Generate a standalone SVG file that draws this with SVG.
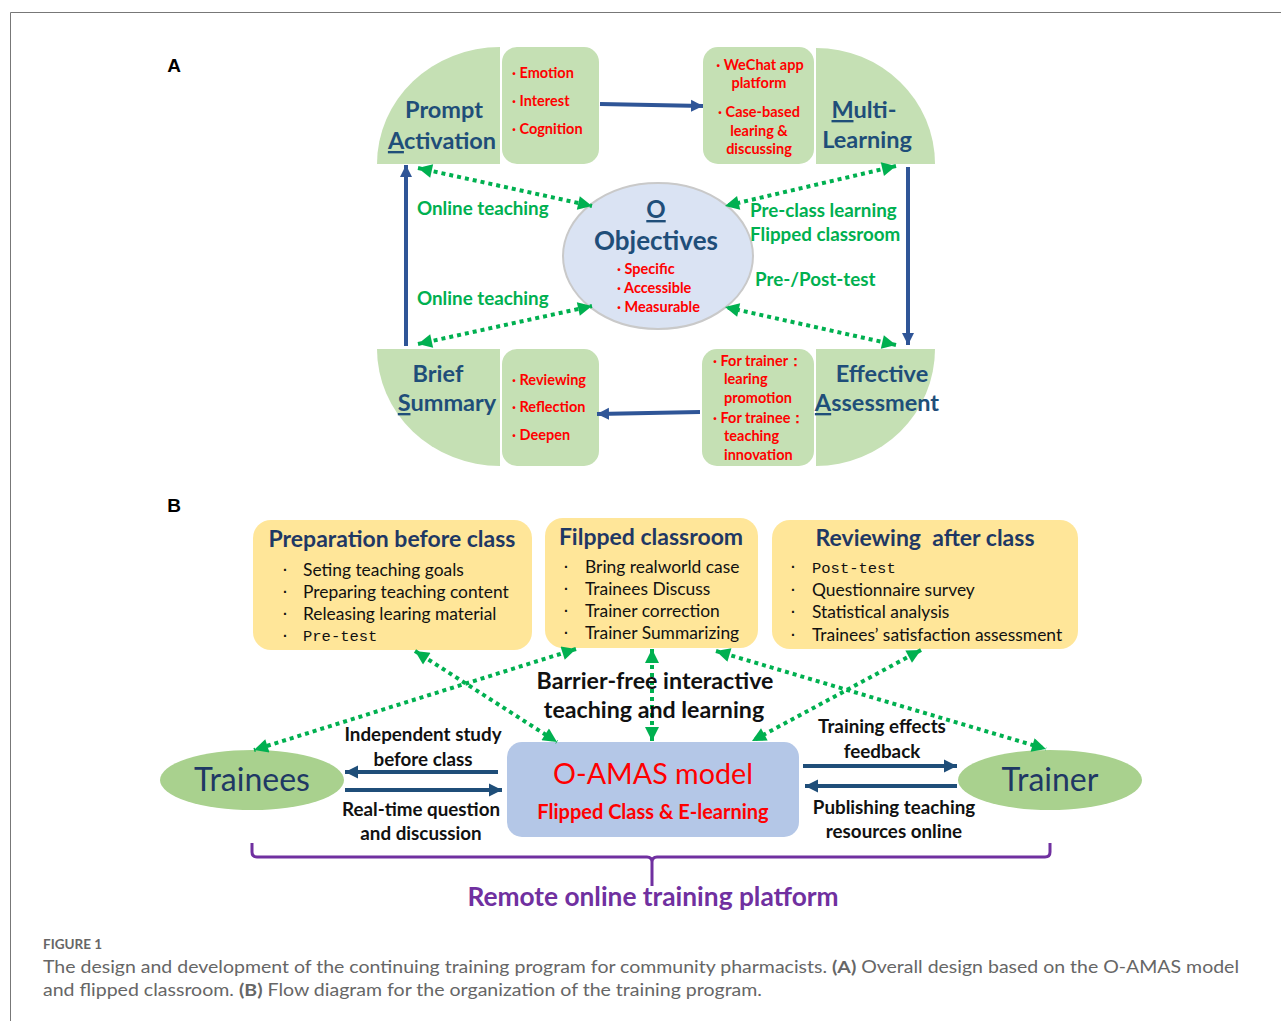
<svg xmlns="http://www.w3.org/2000/svg" width="1281" height="1021" viewBox="0 0 1281 1021">
<style>
  .t{font-family:Lato,"Liberation Sans",sans-serif}
  .qt{font-family:Lato,"Liberation Sans",sans-serif;font-weight:700;font-size:23.5px;fill:#1f4e79;text-anchor:middle}
  .red{font-family:Lato,"Liberation Sans",sans-serif;font-weight:700;font-size:14.5px;fill:#ff0000}
  .gl{font-family:Lato,"Liberation Sans",sans-serif;font-weight:700;font-size:18.8px;fill:#00b050}
  .bt{font-family:Lato,"Liberation Sans",sans-serif;font-weight:700;font-size:23px;fill:#1f3864;text-anchor:middle}
  .it{font-family:Lato,"Liberation Sans",sans-serif;font-size:17.4px;fill:#111}
  .mono{font-family:"Liberation Mono",monospace;font-size:15.5px;fill:#111}
  .bul{font-family:"Liberation Sans",sans-serif;font-weight:700;font-size:14px;fill:#111}
  .al{font-family:Lato,"Liberation Sans",sans-serif;font-weight:700;font-size:18.8px;fill:#111;text-anchor:middle}
  .lg{fill:#c5e0b4}
  .gd{fill:none;stroke:#00b050;stroke-width:4;stroke-dasharray:4 4;marker-start:url(#ga);marker-end:url(#ga)}
  .ba{fill:none;stroke:#2f5597;stroke-width:4;marker-end:url(#ba)}
  .bb{fill:none;stroke:#1f4e79;stroke-width:4;marker-end:url(#bb)}
  .u{text-decoration:underline}
</style>
<defs>
  <marker id="ga" viewBox="0 0 10 10" refX="10" refY="5" markerWidth="15" markerHeight="14" markerUnits="userSpaceOnUse" orient="auto-start-reverse"><path d="M0,0 L10,5 L0,10 Z" fill="#00b050"/></marker>
  <marker id="ba" viewBox="0 0 10 10" refX="10" refY="5" markerWidth="12" markerHeight="13" markerUnits="userSpaceOnUse" orient="auto"><path d="M0,0 L10,5 L0,10 Z" fill="#2f5597"/></marker>
  <marker id="bb" viewBox="0 0 10 10" refX="10" refY="5" markerWidth="13" markerHeight="14" markerUnits="userSpaceOnUse" orient="auto"><path d="M0,0 L10,5 L0,10 Z" fill="#1f4e79"/></marker>
</defs>
<rect width="1281" height="1021" fill="#fff"/>
<path d="M10.5,1021 L10.5,12.5 L1281,12.5" fill="none" stroke="#777" stroke-width="1"/>

<text x="174" y="72" font-weight="700" font-size="19" text-anchor="middle" style="font-family:'Liberation Sans',sans-serif">A</text>
<text x="174" y="512" font-weight="700" font-size="19" text-anchor="middle" style="font-family:'Liberation Sans',sans-serif">B</text>

<!-- Panel A nodes -->
<g id="prompt-activation">
  <path class="lg" d="M500,47 L500,164 L377,164 A123,117 0 0 1 500,47 Z"/>
  <text class="qt" x="444" y="118">Prompt</text>
  <text class="qt" x="442" y="149"><tspan class="u">A</tspan>ctivation</text>
</g>
<g id="prompt-items">
  <rect class="lg" x="502" y="47" width="97" height="117" rx="15"/>
  <text class="red" x="512" y="78">· Emotion</text>
  <text class="red" x="512" y="106">· Interest</text>
  <text class="red" x="512" y="134">· Cognition</text>
</g>
<g id="multi-items">
  <rect class="lg" x="703" y="47" width="111" height="117" rx="15"/>
  <text class="red" x="760" y="70" text-anchor="middle">· WeChat app</text>
  <text class="red" x="759" y="88" text-anchor="middle">platform</text>
  <text class="red" x="759" y="117" text-anchor="middle">· Case-based</text>
  <text class="red" x="759" y="136" text-anchor="middle">learing &amp;</text>
  <text class="red" x="759" y="154" text-anchor="middle">discussing</text>
</g>
<g id="multi-learning">
  <path class="lg" d="M816,48 L816,164 L935,164 A119,116 0 0 0 816,48 Z"/>
  <text class="qt" x="864" y="118"><tspan class="u">M</tspan>ulti-</text>
  <text class="qt" x="867" y="148">Learning</text>
</g>
<g id="objectives">
  <ellipse cx="658" cy="256" rx="95" ry="73" fill="#dae3f3" stroke="#c9c9c9" stroke-width="2"/>
  <text class="qt" x="656" y="218" style="font-size:24px"><tspan class="u">O</tspan></text>
  <text class="qt" x="656" y="250" style="font-size:26px">Objectives</text>
  <text class="red" x="617" y="274">· Specific</text>
  <text class="red" x="617" y="293">· Accessible</text>
  <text class="red" x="617" y="312">· Measurable</text>
</g>
<g id="brief-summary">
  <path class="lg" d="M377,349 L500,349 L500,466 A123,117 0 0 1 377,349 Z"/>
  <text class="qt" x="438" y="382">Brief</text>
  <text class="qt" x="447" y="411"><tspan class="u">S</tspan>ummary</text>
</g>
<g id="summary-items">
  <rect class="lg" x="502" y="349" width="97" height="117" rx="15"/>
  <text class="red" x="512" y="385">· Reviewing</text>
  <text class="red" x="512" y="412">· Reflection</text>
  <text class="red" x="512" y="440">· Deepen</text>
</g>
<g id="assessment-items">
  <rect class="lg" x="702" y="349" width="112" height="117" rx="15"/>
  <text class="red" x="713" y="366">· For trainer：</text>
  <text class="red" x="724" y="384">learing</text>
  <text class="red" x="724" y="403">promotion</text>
  <text class="red" x="713" y="423">· For trainee：</text>
  <text class="red" x="724" y="441">teaching</text>
  <text class="red" x="724" y="460">innovation</text>
</g>
<g id="effective-assessment">
  <path class="lg" d="M816,349 L935,349 A119,117 0 0 1 816,466 Z"/>
  <text class="qt" x="882" y="382">Effective</text>
  <text class="qt" x="877" y="411"><tspan class="u">A</tspan>ssessment</text>
</g>

<!-- Panel A connectors -->
<g id="connectors-a">
  <line class="ba" x1="600" y1="104" x2="703" y2="106"/>
  <line class="ba" x1="908" y1="167" x2="908" y2="345"/>
  <line class="ba" x1="700" y1="412" x2="597" y2="414"/>
  <line class="ba" x1="406" y1="346" x2="406" y2="165"/>
  <line class="gd" x1="418" y1="168" x2="592" y2="206"/>
  <line class="gd" x1="418" y1="344" x2="592" y2="306"/>
  <line class="gd" x1="896" y1="166" x2="725" y2="206"/>
  <line class="gd" x1="896" y1="345" x2="725" y2="307"/>
  <text class="gl" x="417" y="215">Online teaching</text>
  <text class="gl" x="417" y="305">Online teaching</text>
  <text class="gl" x="750" y="217">Pre-class learning</text>
  <text class="gl" x="750" y="241">Flipped classroom</text>
  <text class="gl" x="755" y="286">Pre-/Post-test</text>
</g>

<!-- Panel B nodes -->
<g id="preparation">
  <rect x="253" y="520" width="279" height="130" rx="18" fill="#ffe699"/>
  <text class="bt" x="392" y="547">Preparation before class</text>
  <text class="bul" x="283" y="575">·</text><text class="it" x="303" y="576">Seting teaching goals</text>
  <text class="bul" x="283" y="597">·</text><text class="it" x="303" y="598">Preparing teaching content</text>
  <text class="bul" x="283" y="619">·</text><text class="it" x="303" y="620">Releasing learing material</text>
  <text class="bul" x="283" y="641">·</text><text class="mono" x="303" y="641">Pre-test</text>
</g>
<g id="flipped-classroom">
  <rect x="545" y="518" width="213" height="130" rx="18" fill="#ffe699"/>
  <text class="bt" x="651" y="545">Filpped classroom</text>
  <text class="bul" x="564" y="572">·</text><text class="it" x="585" y="573">Bring realworld case</text>
  <text class="bul" x="564" y="594">·</text><text class="it" x="585" y="595">Trainees Discuss</text>
  <text class="bul" x="564" y="616">·</text><text class="it" x="585" y="617">Trainer correction</text>
  <text class="bul" x="564" y="638">·</text><text class="it" x="585" y="639">Trainer Summarizing</text>
</g>
<g id="reviewing">
  <rect x="772" y="520" width="306" height="129" rx="18" fill="#ffe699"/>
  <text class="bt" x="925" y="546" xml:space="preserve">Reviewing  after class</text>
  <text class="bul" x="791" y="572">·</text><text class="mono" x="812" y="573">Post-test</text>
  <text class="bul" x="791" y="595">·</text><text class="it" x="812" y="596">Questionnaire survey</text>
  <text class="bul" x="791" y="617">·</text><text class="it" x="812" y="618">Statistical analysis</text>
  <text class="bul" x="791" y="640">·</text><text class="it" x="812" y="641">Trainees’ satisfaction assessment</text>
</g>
<g id="trainees">
  <ellipse cx="252" cy="780" rx="92" ry="30" fill="#a9d18e"/>
  <text class="t" x="252" y="791" font-size="32" fill="#1f3864" text-anchor="middle">Trainees</text>
</g>
<g id="oamas">
  <rect x="507" y="742" width="292" height="95" rx="15" fill="#b4c7e7"/>
  <text class="t" x="653" y="784" font-size="28.7" fill="#ff0000" text-anchor="middle">O-AMAS model</text>
  <text class="t" x="653" y="819" font-size="20" font-weight="700" fill="#ff0000" text-anchor="middle">Flipped Class &amp; E-learning</text>
</g>
<g id="trainer">
  <ellipse cx="1050" cy="780" rx="92" ry="30" fill="#a9d18e"/>
  <text class="t" x="1050" y="791" font-size="32" fill="#1f3864" text-anchor="middle">Trainer</text>
</g>
<g id="platform">
  <text class="t" x="653" y="906" font-size="26.3" font-weight="700" fill="#7030a0" text-anchor="middle">Remote online training platform</text>
</g>

<!-- Panel B connectors -->
<g id="connectors-b">
  <line class="gd" x1="415" y1="651" x2="557" y2="742"/>
  <line class="gd" x1="576" y1="649" x2="254" y2="750"/>
  <line class="gd" x1="652" y1="649" x2="652" y2="741"/>
  <line class="gd" x1="716" y1="651" x2="1046" y2="749"/>
  <line class="gd" x1="921" y1="650" x2="752" y2="741"/>
  <line class="bb" x1="498" y1="772" x2="345" y2="772"/>
  <line class="bb" x1="345" y1="790" x2="502" y2="790"/>
  <line class="bb" x1="803" y1="766" x2="957" y2="766"/>
  <line class="bb" x1="957" y1="786" x2="805" y2="786"/>
  <path d="M252,843 L252,852 Q252,857 257,857 L647,857 Q652,857 652,862 L652,886 M652,862 Q652,857 657,857 L1045,857 Q1050,857 1050,852 L1050,843" fill="none" stroke="#7030a0" stroke-width="3"/>
  <text class="t" x="655" y="689" font-size="23.2" font-weight="700" fill="#111" text-anchor="middle">Barrier-free interactive</text>
  <text class="t" x="654" y="718" font-size="23.2" font-weight="700" fill="#111" text-anchor="middle">teaching and learning</text>
  <text class="al" x="423" y="741">Independent study</text>
  <text class="al" x="423" y="766">before class</text>
  <text class="al" x="421" y="816">Real-time question</text>
  <text class="al" x="421" y="840">and discussion</text>
  <text class="al" x="882" y="733">Training effects</text>
  <text class="al" x="882" y="758">feedback</text>
  <text class="al" x="894" y="814">Publishing teaching</text>
  <text class="al" x="894" y="838">resources online</text>
</g>

<!-- Caption -->
<text class="t" x="43" y="949" font-size="13.5" font-weight="700" fill="#666">FIGURE 1</text>
<text class="t" x="43" y="973" font-size="17.5" fill="#666" textLength="1196" lengthAdjust="spacingAndGlyphs">The design and development of the continuing training program for community pharmacists. <tspan font-weight="700">(A)</tspan> Overall design based on the O-AMAS model</text>
<text class="t" x="43" y="996" font-size="17.5" fill="#666" textLength="719" lengthAdjust="spacingAndGlyphs">and flipped classroom. <tspan font-weight="700">(B)</tspan> Flow diagram for the organization of the training program.</text>
</svg>
